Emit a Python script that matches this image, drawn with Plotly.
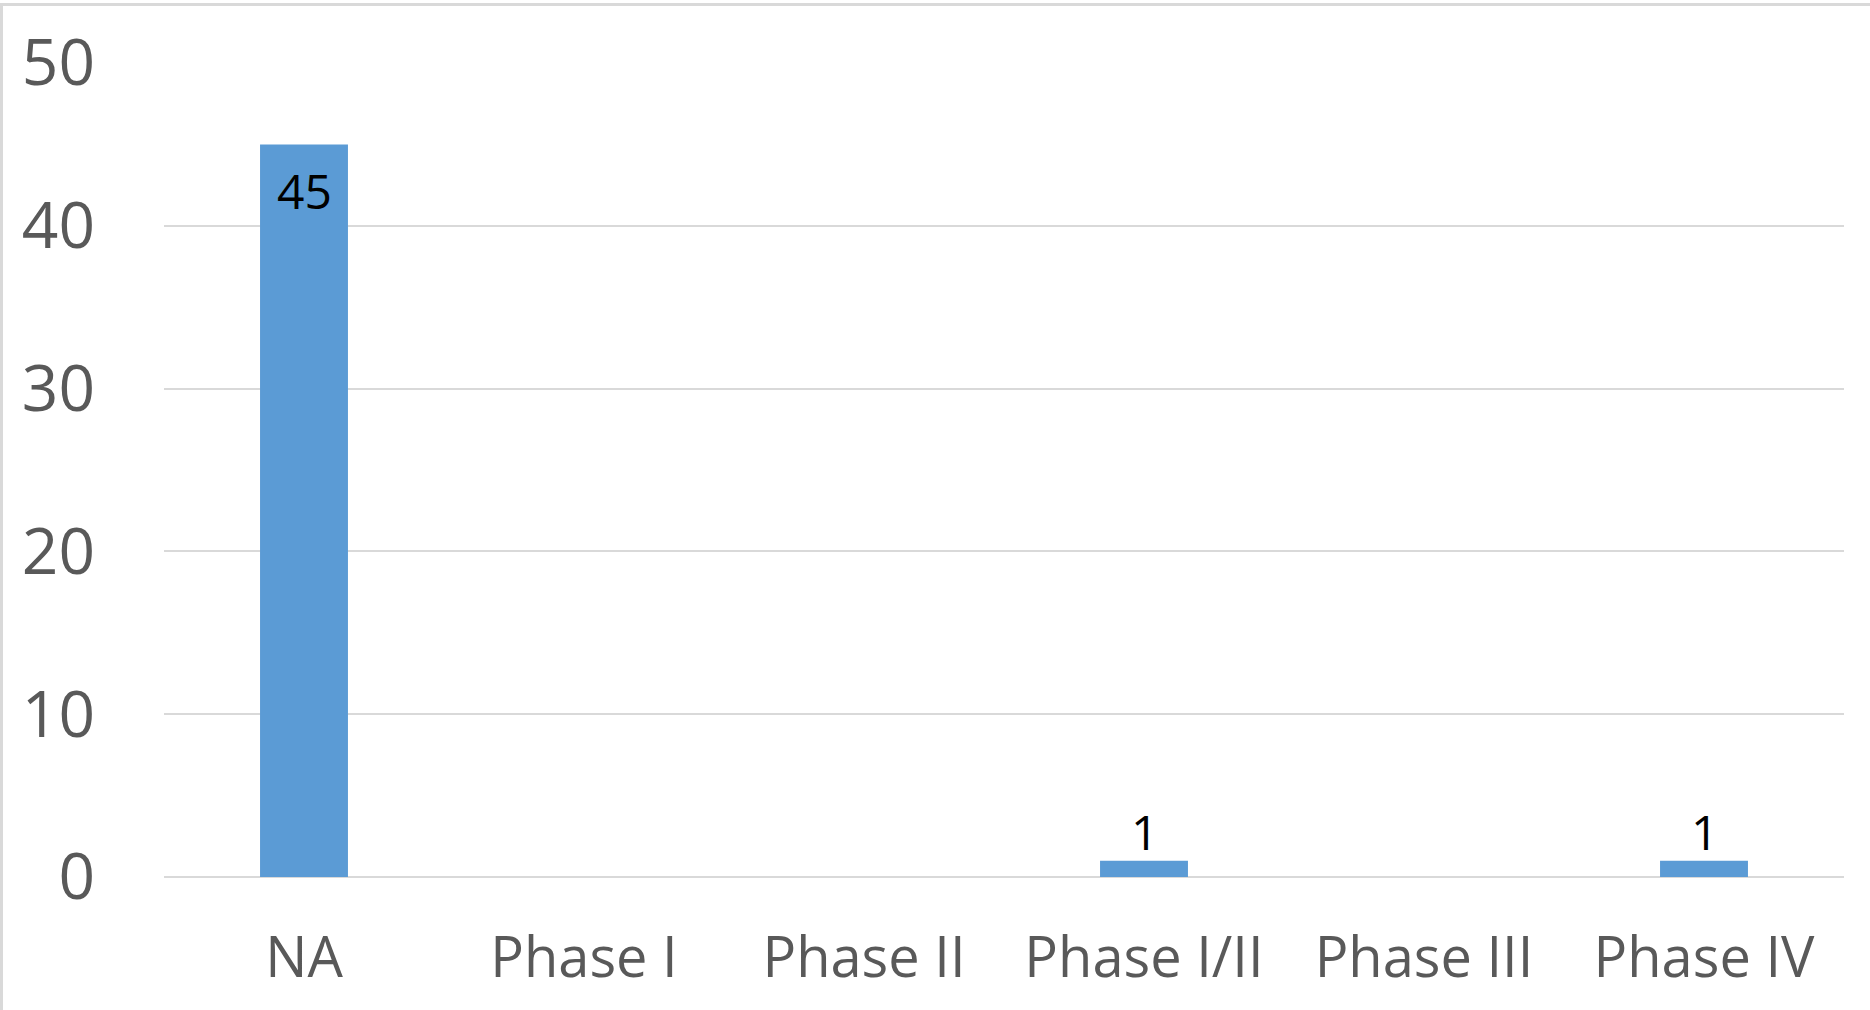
import plotly.graph_objects as go

categories = ["NA", "Phase I", "Phase II", "Phase I/II", "Phase III", "Phase IV"]
values = [45, 0, 0, 1, 0, 1]
y_ticks = [0, 10, 20, 30, 40, 50]

W, H = 1870, 1010
L, R, T, B = 164, 26, 63, 133
pw, ph = W - L - R, H - T - B

fig = go.Figure(go.Bar(
    x=categories, y=values,
    marker=dict(color="#5b9bd5", line=dict(width=0)),
    cliponaxis=False,
))

annotations = []
for c, v in zip(categories, values):
    if not v:
        continue
    inside = v >= 10
    annotations.append(dict(
        x=c, y=v, xref="x", yref="y", text=str(v), showarrow=False,
        yanchor="top" if inside else "bottom",
        yshift=-12 if inside else -5,
        font=dict(family="Open Sans", size=48, color="#000000"),
    ))

fig.update_layout(
    width=W, height=H,
    margin=dict(l=L, r=R, t=T, b=B),
    paper_bgcolor="white", plot_bgcolor="white",
    bargap=0.686,
    showlegend=False,
    font=dict(family="Open Sans", color="#595959"),
    annotations=annotations,
    xaxis=dict(
        showgrid=False, showline=False, zeroline=False,
        tickfont=dict(size=56, color="#595959"),
        ticks="", ticklabelstandoff=43,
    ),
    yaxis=dict(
        range=[0, 50], tickvals=y_ticks,
        showgrid=True, gridcolor="#d9d9d9", gridwidth=2,
        zeroline=True, zerolinecolor="#d9d9d9", zerolinewidth=2,
        showline=False,
        tickfont=dict(size=64, color="#595959"),
        ticks="", ticklabelstandoff=68,
    ),
    shapes=[dict(
        type="rect", xref="paper", yref="paper",
        x0=(1.5 - L) / pw, x1=(W + 5 - L) / pw,
        y0=(T + ph - (H + 5)) / ph, y1=(T + ph - 4.5) / ph,
        line=dict(color="#d9d9d9", width=3), fillcolor="rgba(0,0,0,0)",
        layer="below",
    )],
)

fig.write_html("out.html")
